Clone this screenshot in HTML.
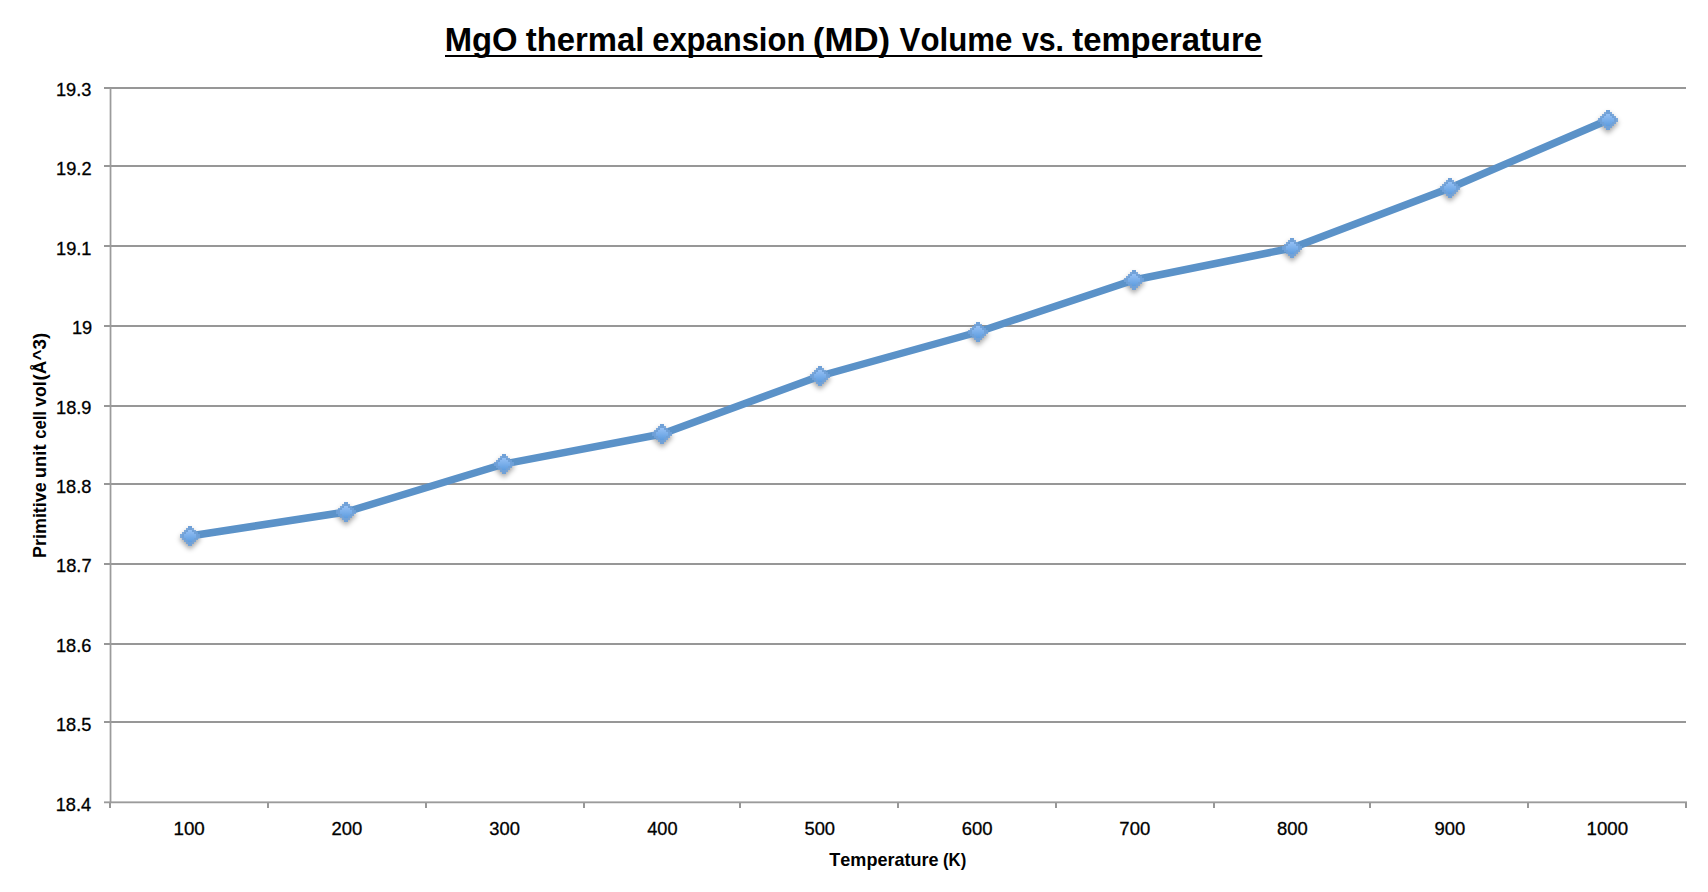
<!DOCTYPE html>
<html><head><meta charset="utf-8"><title>MgO thermal expansion (MD) Volume vs. temperature</title>
<style>html,body{margin:0;padding:0;background:#fff;}body{width:1708px;height:892px;overflow:hidden;}svg{display:block;}text{font-family:"Liberation Sans",sans-serif;fill:#000;font-kerning:none;}</style></head><body>
<svg width="1708" height="892" viewBox="0 0 1708 892">
<defs>
<linearGradient id="mg" x1="0" y1="0" x2="0" y2="1"><stop offset="0" stop-color="#95c0f5"/><stop offset="1" stop-color="#5f9ddf"/></linearGradient>
<filter id="sh" x="-60%" y="-60%" width="220%" height="240%"><feGaussianBlur stdDeviation="2.6"/></filter>
</defs>
<rect width="1708" height="892" fill="#fff"/>
<g fill="#979797" shape-rendering="crispEdges">
<rect x="104" y="87" width="1582" height="2"/>
<rect x="104" y="165" width="1582" height="2"/>
<rect x="104" y="245" width="1582" height="2"/>
<rect x="104" y="325" width="1582" height="2"/>
<rect x="104" y="405" width="1582" height="2"/>
<rect x="104" y="483" width="1582" height="2"/>
<rect x="104" y="563" width="1582" height="2"/>
<rect x="104" y="643" width="1582" height="2"/>
<rect x="104" y="721" width="1582" height="2"/>
<rect x="109" y="803" width="2" height="5"/>
<rect x="267" y="803" width="2" height="5"/>
<rect x="425" y="803" width="2" height="5"/>
<rect x="583" y="803" width="2" height="5"/>
<rect x="739" y="803" width="2" height="5"/>
<rect x="897" y="803" width="2" height="5"/>
<rect x="1055" y="803" width="2" height="5"/>
<rect x="1213" y="803" width="2" height="5"/>
<rect x="1369" y="803" width="2" height="5"/>
<rect x="1527" y="803" width="2" height="5"/>
<rect x="1685" y="803" width="2" height="5"/>
</g>
<g fill="#9b9b9b">
<rect x="109.65" y="88" width="1.75" height="714"/>
<rect x="104" y="801.4" width="1583" height="1.85"/>
</g>
<text transform="translate(444.71,50.90) scale(0.9791,1)" font-size="33.5" font-weight="bold">MgO</text>
<text transform="translate(525.70,50.90) scale(0.9811,1)" font-size="33.5" font-weight="bold">thermal</text>
<text transform="translate(652.19,50.90) scale(0.9242,1)" font-size="33.5" font-weight="bold">expansion</text>
<text transform="translate(812.87,50.90) scale(1.0398,1)" font-size="33.5" font-weight="bold">(MD)</text>
<text transform="translate(899.59,50.90) scale(0.9321,1)" font-size="33.5" font-weight="bold">Volume</text>
<text transform="translate(1021.88,50.90) scale(0.9041,1)" font-size="33.5" font-weight="bold">vs.</text>
<text transform="translate(1072.20,50.90) scale(0.9804,1)" font-size="33.5" font-weight="bold">temperature</text>
<rect x="445" y="55" width="817.3" height="2" fill="#000"/>
<text transform="translate(55.93,96.00) scale(0.9850,1)" font-size="18.5" stroke="#000" stroke-width="0.3">19.3</text>
<text transform="translate(56.05,175.00) scale(0.9850,1)" font-size="18.5" stroke="#000" stroke-width="0.3">19.2</text>
<text transform="translate(56.02,255.00) scale(0.9850,1)" font-size="18.5" stroke="#000" stroke-width="0.3">19.1</text>
<text transform="translate(71.89,334.00) scale(0.9850,1)" font-size="18.5" stroke="#000" stroke-width="0.3">19</text>
<text transform="translate(56.00,414.00) scale(0.9850,1)" font-size="18.5" stroke="#000" stroke-width="0.3">18.9</text>
<text transform="translate(55.93,493.00) scale(0.9850,1)" font-size="18.5" stroke="#000" stroke-width="0.3">18.8</text>
<text transform="translate(56.05,572.00) scale(0.9850,1)" font-size="18.5" stroke="#000" stroke-width="0.3">18.7</text>
<text transform="translate(55.93,652.00) scale(0.9850,1)" font-size="18.5" stroke="#000" stroke-width="0.3">18.6</text>
<text transform="translate(55.90,731.00) scale(0.9850,1)" font-size="18.5" stroke="#000" stroke-width="0.3">18.5</text>
<text transform="translate(55.67,811.00) scale(0.9850,1)" font-size="18.5" stroke="#000" stroke-width="0.3">18.4</text>
<text transform="translate(173.47,834.70) scale(1.0162,1)" font-size="18.5" stroke="#000" stroke-width="0.3">100</text>
<text transform="translate(331.54,834.70) scale(0.9995,1)" font-size="18.5" stroke="#000" stroke-width="0.3">200</text>
<text transform="translate(489.34,834.70) scale(0.9919,1)" font-size="18.5" stroke="#000" stroke-width="0.3">300</text>
<text transform="translate(647.19,834.70) scale(0.9825,1)" font-size="18.5" stroke="#000" stroke-width="0.3">400</text>
<text transform="translate(804.44,834.70) scale(0.9931,1)" font-size="18.5" stroke="#000" stroke-width="0.3">500</text>
<text transform="translate(961.81,834.70) scale(0.9999,1)" font-size="18.5" stroke="#000" stroke-width="0.3">600</text>
<text transform="translate(1119.37,834.70) scale(1.0002,1)" font-size="18.5" stroke="#000" stroke-width="0.3">700</text>
<text transform="translate(1277.09,834.70) scale(0.9952,1)" font-size="18.5" stroke="#000" stroke-width="0.3">800</text>
<text transform="translate(1434.60,834.70) scale(0.9974,1)" font-size="18.5" stroke="#000" stroke-width="0.3">900</text>
<text transform="translate(1586.51,834.70) scale(1.0096,1)" font-size="18.5" stroke="#000" stroke-width="0.3">1000</text>
<text transform="translate(829.30,865.60) scale(0.9755,1)" font-size="18.5" font-weight="bold">Temperature</text>
<text transform="translate(942.97,865.60) scale(0.9061,1)" font-size="18.5" font-weight="bold">(K)</text>
<text transform="translate(45.50,558.00) rotate(-90) scale(0.9702,1)" font-size="18.5" font-weight="bold">Primitive</text>
<text transform="translate(45.50,478.14) rotate(-90) scale(0.9930,1)" font-size="18.5" font-weight="bold">unit</text>
<text transform="translate(45.50,438.65) rotate(-90) scale(0.8951,1)" font-size="18.5" font-weight="bold">cell</text>
<text transform="translate(45.50,406.87) rotate(-90) scale(0.9547,1)" font-size="18.5" font-weight="bold">vol</text>
<text transform="translate(45.50,380.44) rotate(-90) scale(1.0193,1)" font-size="18.5" font-weight="bold">(Å^3)</text>
<g filter="url(#sh)" fill="#000" fill-opacity="0.34">
<polygon points="192,529 192,531 194,531 194,533 196,533 196,535 198,535 198,537 200,537 200,539 200,539 200,541 198,541 198,543 196,543 196,545 194,545 194,547 192,547 192,549 188,549 188,547 186,547 186,545 184,545 184,543 182,543 182,541 180,541 180,539 180,539 180,537 182,537 182,535 184,535 184,533 186,533 186,531 188,531 188,529"/>
<polygon points="348,505 348,507 350,507 350,509 352,509 352,511 354,511 354,513 356,513 356,515 356,515 356,517 354,517 354,519 352,519 352,521 350,521 350,523 348,523 348,525 344,525 344,523 342,523 342,521 340,521 340,519 338,519 338,517 336,517 336,515 336,515 336,513 338,513 338,511 340,511 340,509 342,509 342,507 344,507 344,505"/>
<polygon points="506,457 506,459 508,459 508,461 510,461 510,463 512,463 512,465 514,465 514,467 514,467 514,469 512,469 512,471 510,471 510,473 508,473 508,475 506,475 506,477 502,477 502,475 500,475 500,473 498,473 498,471 496,471 496,469 494,469 494,467 494,467 494,465 496,465 496,463 498,463 498,461 500,461 500,459 502,459 502,457"/>
<polygon points="664,427 664,429 666,429 666,431 668,431 668,433 670,433 670,435 672,435 672,437 672,437 672,439 670,439 670,441 668,441 668,443 666,443 666,445 664,445 664,447 660,447 660,445 658,445 658,443 656,443 656,441 654,441 654,439 652,439 652,437 652,437 652,435 654,435 654,433 656,433 656,431 658,431 658,429 660,429 660,427"/>
<polygon points="822,369 822,371 824,371 824,373 826,373 826,375 828,375 828,377 830,377 830,379 830,379 830,381 828,381 828,383 826,383 826,385 824,385 824,387 822,387 822,389 818,389 818,387 816,387 816,385 814,385 814,383 812,383 812,381 810,381 810,379 810,379 810,377 812,377 812,375 814,375 814,373 816,373 816,371 818,371 818,369"/>
<polygon points="980,325 980,327 982,327 982,329 984,329 984,331 986,331 986,333 988,333 988,335 988,335 988,337 986,337 986,339 984,339 984,341 982,341 982,343 980,343 980,345 976,345 976,343 974,343 974,341 972,341 972,339 970,339 970,337 968,337 968,335 968,335 968,333 970,333 970,331 972,331 972,329 974,329 974,327 976,327 976,325"/>
<polygon points="1136,273 1136,275 1138,275 1138,277 1140,277 1140,279 1142,279 1142,281 1144,281 1144,283 1144,283 1144,285 1142,285 1142,287 1140,287 1140,289 1138,289 1138,291 1136,291 1136,293 1132,293 1132,291 1130,291 1130,289 1128,289 1128,287 1126,287 1126,285 1124,285 1124,283 1124,283 1124,281 1126,281 1126,279 1128,279 1128,277 1130,277 1130,275 1132,275 1132,273"/>
<polygon points="1294,241 1294,243 1296,243 1296,245 1298,245 1298,247 1300,247 1300,249 1302,249 1302,251 1302,251 1302,253 1300,253 1300,255 1298,255 1298,257 1296,257 1296,259 1294,259 1294,261 1290,261 1290,259 1288,259 1288,257 1286,257 1286,255 1284,255 1284,253 1282,253 1282,251 1282,251 1282,249 1284,249 1284,247 1286,247 1286,245 1288,245 1288,243 1290,243 1290,241"/>
<polygon points="1452,181 1452,183 1454,183 1454,185 1456,185 1456,187 1458,187 1458,189 1460,189 1460,191 1460,191 1460,193 1458,193 1458,195 1456,195 1456,197 1454,197 1454,199 1452,199 1452,201 1448,201 1448,199 1446,199 1446,197 1444,197 1444,195 1442,195 1442,193 1440,193 1440,191 1440,191 1440,189 1442,189 1442,187 1444,187 1444,185 1446,185 1446,183 1448,183 1448,181"/>
<polygon points="1610,113 1610,115 1612,115 1612,117 1614,117 1614,119 1616,119 1616,121 1618,121 1618,123 1618,123 1618,125 1616,125 1616,127 1614,127 1614,129 1612,129 1612,131 1610,131 1610,133 1606,133 1606,131 1604,131 1604,129 1602,129 1602,127 1600,127 1600,125 1598,125 1598,123 1598,123 1598,121 1600,121 1600,119 1602,119 1602,117 1604,117 1604,115 1606,115 1606,113"/>
</g>
<polyline fill="none" stroke="#5b92c8" stroke-width="7.5" stroke-linejoin="round" stroke-linecap="round" points="190,536 346,512 504,464 662,434 820,376 978,332 1134,280 1292,248 1450,188 1608,120"/>
<g shape-rendering="crispEdges">
<polygon points="192,526 192,528 194,528 194,530 196,530 196,532 198,532 198,534 200,534 200,536 200,536 200,538 198,538 198,540 196,540 196,542 194,542 194,544 192,544 192,546 188,546 188,544 186,544 186,542 184,542 184,540 182,540 182,538 180,538 180,536 180,536 180,534 182,534 182,532 184,532 184,530 186,530 186,528 188,528 188,526" fill="#70a1d8" fill-opacity="0.88"/>
<polygon points="192,528 192,530 194,530 194,532 196,532 196,534 198,534 198,536 198,536 198,538 196,538 196,540 194,540 194,542 192,542 192,544 188,544 188,542 186,542 186,540 184,540 184,538 182,538 182,536 182,536 182,534 184,534 184,532 186,532 186,530 188,530 188,528" fill="#70a1d8"/>
<rect x="188" y="526" width="4" height="20" fill="#70a1d8"/>
<polygon points="192,530 192,532 194,532 194,534 196,534 196,536 196,536 196,538 194,538 194,540 192,540 192,542 188,542 188,540 186,540 186,538 184,538 184,536 184,536 184,534 186,534 186,532 188,532 188,530" fill="url(#mg)"/>
<polygon points="348,502 348,504 350,504 350,506 352,506 352,508 354,508 354,510 356,510 356,512 356,512 356,514 354,514 354,516 352,516 352,518 350,518 350,520 348,520 348,522 344,522 344,520 342,520 342,518 340,518 340,516 338,516 338,514 336,514 336,512 336,512 336,510 338,510 338,508 340,508 340,506 342,506 342,504 344,504 344,502" fill="#70a1d8" fill-opacity="0.88"/>
<polygon points="348,504 348,506 350,506 350,508 352,508 352,510 354,510 354,512 354,512 354,514 352,514 352,516 350,516 350,518 348,518 348,520 344,520 344,518 342,518 342,516 340,516 340,514 338,514 338,512 338,512 338,510 340,510 340,508 342,508 342,506 344,506 344,504" fill="#70a1d8"/>
<rect x="344" y="502" width="4" height="20" fill="#70a1d8"/>
<polygon points="348,506 348,508 350,508 350,510 352,510 352,512 352,512 352,514 350,514 350,516 348,516 348,518 344,518 344,516 342,516 342,514 340,514 340,512 340,512 340,510 342,510 342,508 344,508 344,506" fill="url(#mg)"/>
<polygon points="506,454 506,456 508,456 508,458 510,458 510,460 512,460 512,462 514,462 514,464 514,464 514,466 512,466 512,468 510,468 510,470 508,470 508,472 506,472 506,474 502,474 502,472 500,472 500,470 498,470 498,468 496,468 496,466 494,466 494,464 494,464 494,462 496,462 496,460 498,460 498,458 500,458 500,456 502,456 502,454" fill="#70a1d8" fill-opacity="0.88"/>
<polygon points="506,456 506,458 508,458 508,460 510,460 510,462 512,462 512,464 512,464 512,466 510,466 510,468 508,468 508,470 506,470 506,472 502,472 502,470 500,470 500,468 498,468 498,466 496,466 496,464 496,464 496,462 498,462 498,460 500,460 500,458 502,458 502,456" fill="#70a1d8"/>
<rect x="502" y="454" width="4" height="20" fill="#70a1d8"/>
<polygon points="506,458 506,460 508,460 508,462 510,462 510,464 510,464 510,466 508,466 508,468 506,468 506,470 502,470 502,468 500,468 500,466 498,466 498,464 498,464 498,462 500,462 500,460 502,460 502,458" fill="url(#mg)"/>
<polygon points="664,424 664,426 666,426 666,428 668,428 668,430 670,430 670,432 672,432 672,434 672,434 672,436 670,436 670,438 668,438 668,440 666,440 666,442 664,442 664,444 660,444 660,442 658,442 658,440 656,440 656,438 654,438 654,436 652,436 652,434 652,434 652,432 654,432 654,430 656,430 656,428 658,428 658,426 660,426 660,424" fill="#70a1d8" fill-opacity="0.88"/>
<polygon points="664,426 664,428 666,428 666,430 668,430 668,432 670,432 670,434 670,434 670,436 668,436 668,438 666,438 666,440 664,440 664,442 660,442 660,440 658,440 658,438 656,438 656,436 654,436 654,434 654,434 654,432 656,432 656,430 658,430 658,428 660,428 660,426" fill="#70a1d8"/>
<rect x="660" y="424" width="4" height="20" fill="#70a1d8"/>
<polygon points="664,428 664,430 666,430 666,432 668,432 668,434 668,434 668,436 666,436 666,438 664,438 664,440 660,440 660,438 658,438 658,436 656,436 656,434 656,434 656,432 658,432 658,430 660,430 660,428" fill="url(#mg)"/>
<polygon points="822,366 822,368 824,368 824,370 826,370 826,372 828,372 828,374 830,374 830,376 830,376 830,378 828,378 828,380 826,380 826,382 824,382 824,384 822,384 822,386 818,386 818,384 816,384 816,382 814,382 814,380 812,380 812,378 810,378 810,376 810,376 810,374 812,374 812,372 814,372 814,370 816,370 816,368 818,368 818,366" fill="#70a1d8" fill-opacity="0.88"/>
<polygon points="822,368 822,370 824,370 824,372 826,372 826,374 828,374 828,376 828,376 828,378 826,378 826,380 824,380 824,382 822,382 822,384 818,384 818,382 816,382 816,380 814,380 814,378 812,378 812,376 812,376 812,374 814,374 814,372 816,372 816,370 818,370 818,368" fill="#70a1d8"/>
<rect x="818" y="366" width="4" height="20" fill="#70a1d8"/>
<polygon points="822,370 822,372 824,372 824,374 826,374 826,376 826,376 826,378 824,378 824,380 822,380 822,382 818,382 818,380 816,380 816,378 814,378 814,376 814,376 814,374 816,374 816,372 818,372 818,370" fill="url(#mg)"/>
<polygon points="980,322 980,324 982,324 982,326 984,326 984,328 986,328 986,330 988,330 988,332 988,332 988,334 986,334 986,336 984,336 984,338 982,338 982,340 980,340 980,342 976,342 976,340 974,340 974,338 972,338 972,336 970,336 970,334 968,334 968,332 968,332 968,330 970,330 970,328 972,328 972,326 974,326 974,324 976,324 976,322" fill="#70a1d8" fill-opacity="0.88"/>
<polygon points="980,324 980,326 982,326 982,328 984,328 984,330 986,330 986,332 986,332 986,334 984,334 984,336 982,336 982,338 980,338 980,340 976,340 976,338 974,338 974,336 972,336 972,334 970,334 970,332 970,332 970,330 972,330 972,328 974,328 974,326 976,326 976,324" fill="#70a1d8"/>
<rect x="976" y="322" width="4" height="20" fill="#70a1d8"/>
<polygon points="980,326 980,328 982,328 982,330 984,330 984,332 984,332 984,334 982,334 982,336 980,336 980,338 976,338 976,336 974,336 974,334 972,334 972,332 972,332 972,330 974,330 974,328 976,328 976,326" fill="url(#mg)"/>
<polygon points="1136,270 1136,272 1138,272 1138,274 1140,274 1140,276 1142,276 1142,278 1144,278 1144,280 1144,280 1144,282 1142,282 1142,284 1140,284 1140,286 1138,286 1138,288 1136,288 1136,290 1132,290 1132,288 1130,288 1130,286 1128,286 1128,284 1126,284 1126,282 1124,282 1124,280 1124,280 1124,278 1126,278 1126,276 1128,276 1128,274 1130,274 1130,272 1132,272 1132,270" fill="#70a1d8" fill-opacity="0.88"/>
<polygon points="1136,272 1136,274 1138,274 1138,276 1140,276 1140,278 1142,278 1142,280 1142,280 1142,282 1140,282 1140,284 1138,284 1138,286 1136,286 1136,288 1132,288 1132,286 1130,286 1130,284 1128,284 1128,282 1126,282 1126,280 1126,280 1126,278 1128,278 1128,276 1130,276 1130,274 1132,274 1132,272" fill="#70a1d8"/>
<rect x="1132" y="270" width="4" height="20" fill="#70a1d8"/>
<polygon points="1136,274 1136,276 1138,276 1138,278 1140,278 1140,280 1140,280 1140,282 1138,282 1138,284 1136,284 1136,286 1132,286 1132,284 1130,284 1130,282 1128,282 1128,280 1128,280 1128,278 1130,278 1130,276 1132,276 1132,274" fill="url(#mg)"/>
<polygon points="1294,238 1294,240 1296,240 1296,242 1298,242 1298,244 1300,244 1300,246 1302,246 1302,248 1302,248 1302,250 1300,250 1300,252 1298,252 1298,254 1296,254 1296,256 1294,256 1294,258 1290,258 1290,256 1288,256 1288,254 1286,254 1286,252 1284,252 1284,250 1282,250 1282,248 1282,248 1282,246 1284,246 1284,244 1286,244 1286,242 1288,242 1288,240 1290,240 1290,238" fill="#70a1d8" fill-opacity="0.88"/>
<polygon points="1294,240 1294,242 1296,242 1296,244 1298,244 1298,246 1300,246 1300,248 1300,248 1300,250 1298,250 1298,252 1296,252 1296,254 1294,254 1294,256 1290,256 1290,254 1288,254 1288,252 1286,252 1286,250 1284,250 1284,248 1284,248 1284,246 1286,246 1286,244 1288,244 1288,242 1290,242 1290,240" fill="#70a1d8"/>
<rect x="1290" y="238" width="4" height="20" fill="#70a1d8"/>
<polygon points="1294,242 1294,244 1296,244 1296,246 1298,246 1298,248 1298,248 1298,250 1296,250 1296,252 1294,252 1294,254 1290,254 1290,252 1288,252 1288,250 1286,250 1286,248 1286,248 1286,246 1288,246 1288,244 1290,244 1290,242" fill="url(#mg)"/>
<polygon points="1452,178 1452,180 1454,180 1454,182 1456,182 1456,184 1458,184 1458,186 1460,186 1460,188 1460,188 1460,190 1458,190 1458,192 1456,192 1456,194 1454,194 1454,196 1452,196 1452,198 1448,198 1448,196 1446,196 1446,194 1444,194 1444,192 1442,192 1442,190 1440,190 1440,188 1440,188 1440,186 1442,186 1442,184 1444,184 1444,182 1446,182 1446,180 1448,180 1448,178" fill="#70a1d8" fill-opacity="0.88"/>
<polygon points="1452,180 1452,182 1454,182 1454,184 1456,184 1456,186 1458,186 1458,188 1458,188 1458,190 1456,190 1456,192 1454,192 1454,194 1452,194 1452,196 1448,196 1448,194 1446,194 1446,192 1444,192 1444,190 1442,190 1442,188 1442,188 1442,186 1444,186 1444,184 1446,184 1446,182 1448,182 1448,180" fill="#70a1d8"/>
<rect x="1448" y="178" width="4" height="20" fill="#70a1d8"/>
<polygon points="1452,182 1452,184 1454,184 1454,186 1456,186 1456,188 1456,188 1456,190 1454,190 1454,192 1452,192 1452,194 1448,194 1448,192 1446,192 1446,190 1444,190 1444,188 1444,188 1444,186 1446,186 1446,184 1448,184 1448,182" fill="url(#mg)"/>
<polygon points="1610,110 1610,112 1612,112 1612,114 1614,114 1614,116 1616,116 1616,118 1618,118 1618,120 1618,120 1618,122 1616,122 1616,124 1614,124 1614,126 1612,126 1612,128 1610,128 1610,130 1606,130 1606,128 1604,128 1604,126 1602,126 1602,124 1600,124 1600,122 1598,122 1598,120 1598,120 1598,118 1600,118 1600,116 1602,116 1602,114 1604,114 1604,112 1606,112 1606,110" fill="#70a1d8" fill-opacity="0.88"/>
<polygon points="1610,112 1610,114 1612,114 1612,116 1614,116 1614,118 1616,118 1616,120 1616,120 1616,122 1614,122 1614,124 1612,124 1612,126 1610,126 1610,128 1606,128 1606,126 1604,126 1604,124 1602,124 1602,122 1600,122 1600,120 1600,120 1600,118 1602,118 1602,116 1604,116 1604,114 1606,114 1606,112" fill="#70a1d8"/>
<rect x="1606" y="110" width="4" height="20" fill="#70a1d8"/>
<polygon points="1610,114 1610,116 1612,116 1612,118 1614,118 1614,120 1614,120 1614,122 1612,122 1612,124 1610,124 1610,126 1606,126 1606,124 1604,124 1604,122 1602,122 1602,120 1602,120 1602,118 1604,118 1604,116 1606,116 1606,114" fill="url(#mg)"/>
</g>
</svg></body></html>
